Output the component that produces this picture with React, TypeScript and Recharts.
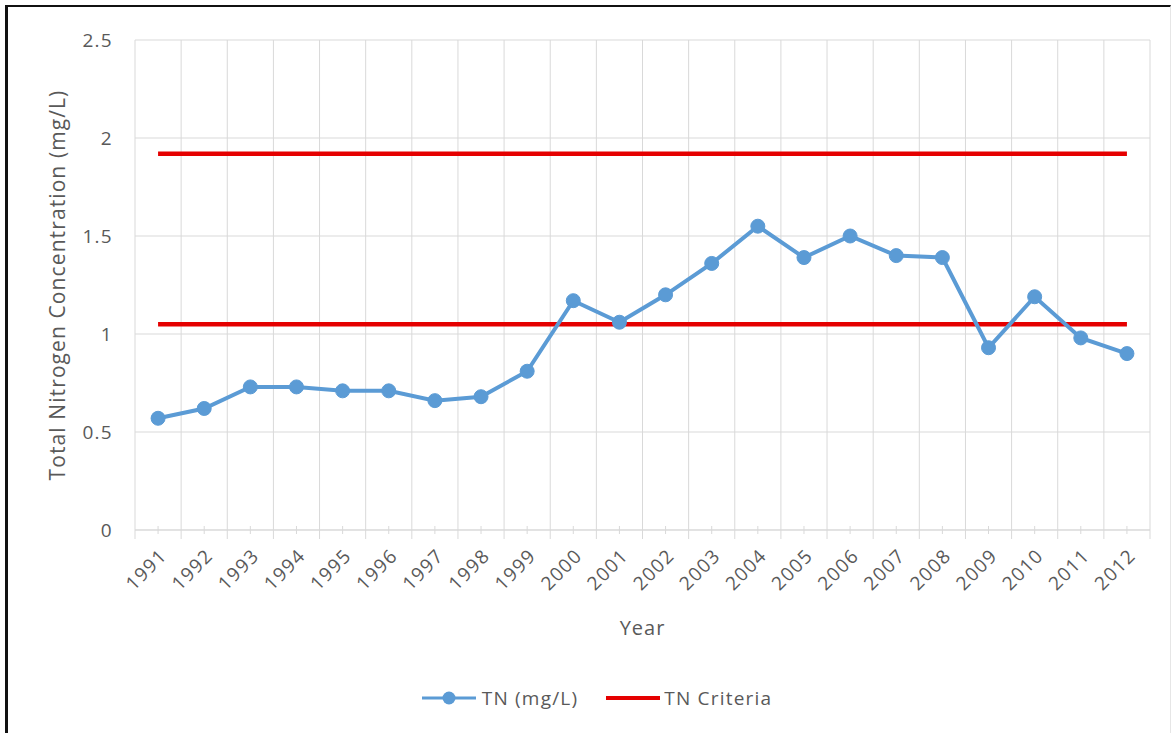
import React from "react";
import { LineChart, Line, XAxis, YAxis, CartesianGrid, Legend } from "recharts";

const years = ["1991","1992","1993","1994","1995","1996","1997","1998","1999","2000","2001","2002","2003","2004","2005","2006","2007","2008","2009","2010","2011","2012"];
const tnValues = [0.57, 0.62, 0.73, 0.73, 0.71, 0.71, 0.66, 0.68, 0.81, 1.17, 1.06, 1.2, 1.36, 1.55, 1.39, 1.5, 1.4, 1.39, 0.93, 1.19, 0.98, 0.9];
const criteriaHigh = [1.92, 1.92, 1.92, 1.92, 1.92, 1.92, 1.92, 1.92, 1.92, 1.92, 1.92, 1.92, 1.92, 1.92, 1.92, 1.92, 1.92, 1.92, 1.92, 1.92, 1.92, 1.92];
const criteriaLow = [1.05, 1.05, 1.05, 1.05, 1.05, 1.05, 1.05, 1.05, 1.05, 1.05, 1.05, 1.05, 1.05, 1.05, 1.05, 1.05, 1.05, 1.05, 1.05, 1.05, 1.05, 1.05];
const yTicks = [0, 0.5, 1, 1.5, 2, 2.5];

const data = years.map((y, i) => ({ year: y, tn: tnValues[i], critHigh: criteriaHigh[i], critLow: criteriaLow[i] }));

const BLUE = "#5B9BD5";
const RED = "#E50000";
const TEXT = "#595959";
const GRID = "#D9D9D9";
const FONT = "'Open Sans', sans-serif";

const XTick = (props: any) => {
  const { x, y, payload, index, visibleTicksCount, width } = props;
  const band = payload && payload.offset ? payload.offset * 2 : width / visibleTicksCount;
  const half = band / 2;
  const last = index === visibleTicksCount - 1;
  return (
    <g>
      <line x1={x} y1={y - 4} x2={x} y2={y + 4} stroke={GRID} />
      <line x1={x - half} y1={y} x2={x - half} y2={y + 9} stroke={GRID} />
      {last && <line x1={x + half} y1={y} x2={x + half} y2={y + 9} stroke={GRID} />}
      <g transform={`translate(${x + 10},${y + 27})`}>
        <text x={0} y={0} textAnchor="end" transform="rotate(-45)" fill={TEXT} fontSize={19} letterSpacing={1.3} fontFamily={FONT}>
          {payload.value}
        </text>
      </g>
    </g>
  );
};

const verticalGen = ({ xAxis, offset }: any) => {
  const n = years.length;
  const s = xAxis && xAxis.scale;
  const f = typeof s === "function" ? s : s && typeof s.map === "function" ? (v: any) => s.map(v) : null;
  const bw = s && typeof s.bandwidth === "function" ? s.bandwidth() : null;
  if (f && bw) {
    const pts = years.map((y) => f(y));
    pts.push(f(years[n - 1]) + bw);
    if (pts.every((p: any) => typeof p === "number" && !isNaN(p))) return pts;
  }
  const res: number[] = [];
  for (let i = 0; i <= n; i++) res.push(offset.left + (offset.width * i) / n);
  return res;
};

const LegendContent = () => (
  <div style={{ display: "flex", justifyContent: "center", fontFamily: FONT, fontSize: 19, letterSpacing: 1.2, color: TEXT, paddingLeft: 44, paddingTop: 14 }}>
    <div style={{ display: "flex", alignItems: "center", marginRight: 28 }}>
      <svg width={54} height={16} style={{ marginRight: 6 }}>
        <line x1={0} y1={8} x2={54} y2={8} stroke={BLUE} strokeWidth={3} />
        <circle cx={27} cy={8} r={6.5} fill={BLUE} />
      </svg>
      <span>TN (mg/L)</span>
    </div>
    <div style={{ display: "flex", alignItems: "center" }}>
      <svg width={54} height={16} style={{ marginRight: 4 }}>
        <line x1={0} y1={8} x2={54} y2={8} stroke={RED} strokeWidth={4} />
      </svg>
      <span>TN Criteria</span>
    </div>
  </div>
);

export default function App() {
  return (
    <div style={{ position: "absolute", left: 0, top: 0, width: 1174, height: 733, background: "#fff", overflow: "hidden" }}>
      <div style={{ position: "absolute", left: 5, top: 5, width: 1162, height: 740, borderTop: "2px solid #111", borderLeft: "3px solid #111", borderRight: "1px solid #e6e6e6" }} />
      <div style={{ position: "absolute", left: 0, top: 0 }}>
        <LineChart width={1174} height={733} data={data} margin={{ top: 40, right: 24, left: 0, bottom: 10 }}>
          <CartesianGrid stroke={GRID} strokeWidth={1} verticalCoordinatesGenerator={verticalGen} />
          <XAxis dataKey="year" scale="band" height={141} interval={0} tick={<XTick />} tickLine={false} tickSize={0} tickMargin={0}
            axisLine={{ stroke: GRID }}
            label={{ value: "Year", position: "insideBottom", offset: 36, fill: TEXT, fontSize: 20, letterSpacing: 1, fontFamily: FONT }} />
          <YAxis domain={[0, 2.5]} ticks={yTicks} width={135} axisLine={false} tickLine={false} tickMargin={16}
            tick={{ fill: TEXT, fontSize: 19, letterSpacing: 1.3, fontFamily: FONT }}
            label={{ value: "Total Nitrogen Concentration (mg/L)", angle: -90, position: "insideLeft", offset: 58, fill: TEXT, fontSize: 21, letterSpacing: 1.1, fontFamily: FONT, style: { textAnchor: "middle" } }} />
          <Legend verticalAlign="bottom" height={52} content={<LegendContent />} />
          <Line dataKey="critHigh" name="TN Criteria" stroke={RED} strokeWidth={4.5} dot={false} isAnimationActive={false} legendType="none" />
          <Line dataKey="critLow" name="TN Criteria" stroke={RED} strokeWidth={4.5} dot={false} isAnimationActive={false} />
          <Line dataKey="tn" name="TN (mg/L)" stroke={BLUE} strokeWidth={4} dot={{ r: 7, fill: BLUE, stroke: BLUE, strokeWidth: 1 }} isAnimationActive={false} />
        </LineChart>
      </div>
    </div>
  );
}
